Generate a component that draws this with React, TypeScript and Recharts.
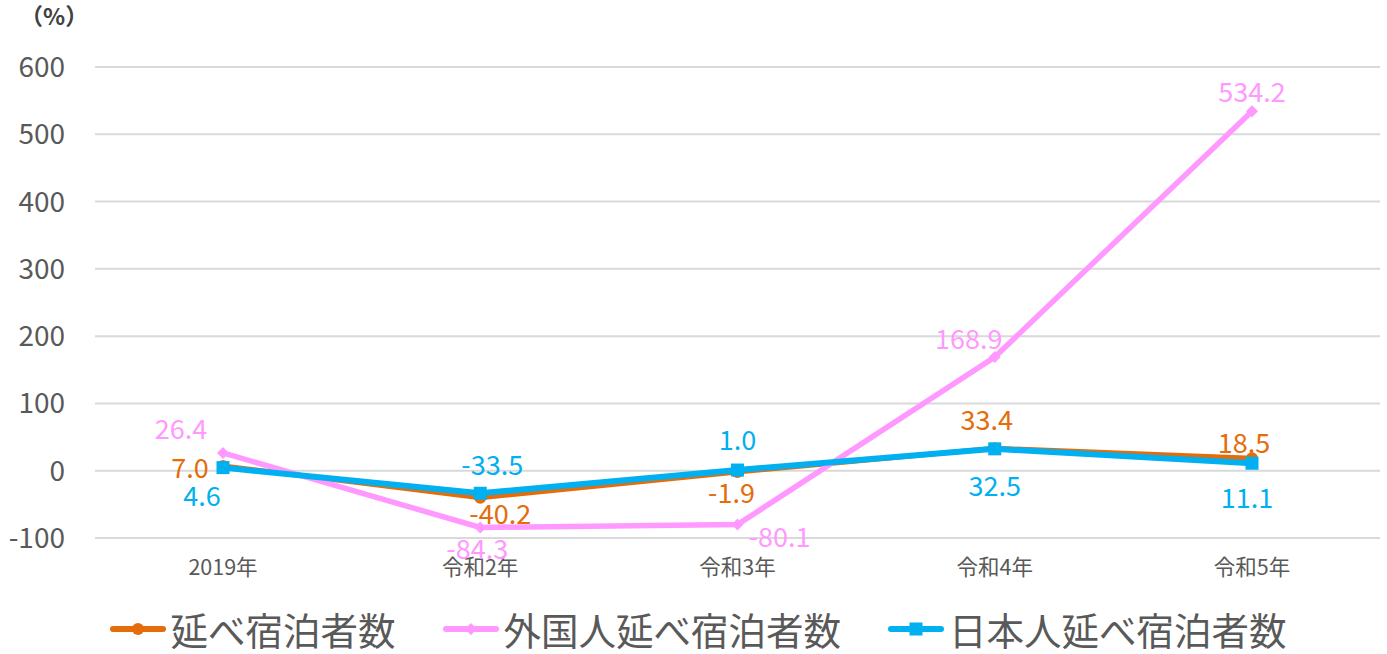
import React from 'react';
import { LineChart, Line, XAxis, YAxis, CartesianGrid, Legend, LabelList } from 'recharts';

const categories = ['2019年', '令和2年', '令和3年', '令和4年', '令和5年'];
const totalStays = [7.0, -40.2, -1.9, 33.4, 18.5];
const foreignStays = [26.4, -84.3, -80.1, 168.9, 534.2];
const japaneseStays = [4.6, -33.5, 1.0, 32.5, 11.1];
const yTicks = [-100, 0, 100, 200, 300, 400, 500, 600];

const seriesNames = ['延べ宿泊者数', '外国人延べ宿泊者数', '日本人延べ宿泊者数'];

// label placement relative to each point (px)
const totalLabelPos = [[-33, 0], [20, 15], [-6, 20], [-8, -30], [-8, -17]];
const foreignLabelPos = [[-42, -25], [-3, 20], [42, 11], [-26, -20], [0, -21]];
const japaneseLabelPos = [[-21, 27], [12, -30], [0, -32], [0, 36], [-5, 33]];

const ORANGE = '#E46C0A';
const PINK = '#FF99FF';
const BLUE = '#00B0F0';
const FONT = "'Noto Sans CJK JP', 'Noto Sans', sans-serif";

const data = categories.map((name, i) => ({
  name,
  total: totalStays[i],
  foreign: foreignStays[i],
  japanese: japaneseStays[i],
}));

const makeLabel = (color: string, pos: number[][]) => (props: any) => {
  const { x, y, value, index } = props;
  const [dx, dy] = pos[index] || [0, 0];
  return (
    <text
      x={x + dx}
      y={y + dy}
      fill={color}
      fontSize={27}
      fontFamily={FONT}
      textAnchor="middle"
      dominantBaseline="central"
    >
      {Number(value).toFixed(1)}
    </text>
  );
};

const CircleDot = (props: any) => {
  const { cx, cy, index } = props;
  return <circle key={`c-${index}`} cx={cx} cy={cy} r={6} fill={ORANGE} />;
};

const DiamondDot = (props: any) => {
  const { cx, cy, index } = props;
  const s = 6;
  return (
    <polygon
      key={`d-${index}`}
      points={`${cx},${cy - s} ${cx + s},${cy} ${cx},${cy + s} ${cx - s},${cy}`}
      fill={PINK}
    />
  );
};

const SquareDot = (props: any) => {
  const { cx, cy, index } = props;
  return <rect key={`s-${index}`} x={cx - 6.5} y={cy - 6.5} width={13} height={13} fill={BLUE} />;
};

const legendIcon = (color: string, kind: string) => (
  <svg width={56} height={20} style={{ marginRight: 5 }}>
    <line x1={3} y1={10} x2={53} y2={10} stroke={color} strokeWidth={6} strokeLinecap="round" />
    {kind === 'circle' && <circle cx={28} cy={10} r={6} fill={color} />}
    {kind === 'diamond' && <polygon points="28,4 34,10 28,16 22,10" fill={color} />}
    {kind === 'square' && <rect x={21.5} y={3.5} width={13} height={13} fill={color} />}
  </svg>
);

const renderLegend = () => {
  const items = [
    { name: seriesNames[0], color: ORANGE, kind: 'circle' },
    { name: seriesNames[1], color: PINK, kind: 'diamond' },
    { name: seriesNames[2], color: BLUE, kind: 'square' },
  ];
  return (
    <div style={{ display: 'flex', justifyContent: 'center', paddingTop: 20, paddingLeft: 16 }}>
      {items.map((it, i) => (
        <div key={it.name} style={{ display: 'flex', alignItems: 'center', marginLeft: i === 0 ? 0 : 47 }}>
          {legendIcon(it.color, it.kind)}
          <span style={{ fontSize: 37.5, lineHeight: 1.35, color: '#595959', fontFamily: FONT }}>{it.name}</span>
        </div>
      ))}
    </div>
  );
};

export default function App() {
  return (
    <div style={{ position: 'relative', width: 1387, height: 654, background: '#fff' }}>
      <style>{'body{margin:0;}'}</style>
      <div
        style={{
          position: 'absolute',
          left: 20,
          top: 2,
          fontSize: 23,
          fontWeight: 'bold',
          color: '#404040',
          fontFamily: FONT,
          lineHeight: 1.2,
        }}
      >
        （%）
      </div>
      <LineChart width={1387} height={654} data={data} margin={{ top: 67, right: 7, bottom: 0, left: 0 }}>
        <CartesianGrid vertical={false} stroke="#D9D9D9" strokeWidth={2} />
        <XAxis
          dataKey="name"
          axisLine={false}
          tickLine={false}
          height={46}
          tickMargin={16}
          padding={{ left: 128, right: 128 }}
          tick={{ fill: '#595959', fontSize: 21.5, fontFamily: FONT }}
        />
        <YAxis
          domain={[-100, 600]}
          ticks={yTicks}
          axisLine={false}
          tickLine={false}
          width={95}
          tickMargin={24}
          tick={{ fill: '#595959', fontSize: 28, fontFamily: FONT }}
        />
        <Legend verticalAlign="bottom" height={70} content={renderLegend} />
        <Line
          dataKey="total"
          name={seriesNames[0]}
          stroke={ORANGE}
          strokeWidth={5}
          dot={CircleDot}
          activeDot={false}
          isAnimationActive={false}
        >
          <LabelList dataKey="total" content={makeLabel(ORANGE, totalLabelPos)} />
        </Line>
        <Line
          dataKey="foreign"
          name={seriesNames[1]}
          stroke={PINK}
          strokeWidth={5.5}
          dot={DiamondDot}
          activeDot={false}
          isAnimationActive={false}
        >
          <LabelList dataKey="foreign" content={makeLabel(PINK, foreignLabelPos)} />
        </Line>
        <Line
          dataKey="japanese"
          name={seriesNames[2]}
          stroke={BLUE}
          strokeWidth={6}
          dot={SquareDot}
          activeDot={false}
          isAnimationActive={false}
        >
          <LabelList dataKey="japanese" content={makeLabel(BLUE, japaneseLabelPos)} />
        </Line>
      </LineChart>
    </div>
  );
}
